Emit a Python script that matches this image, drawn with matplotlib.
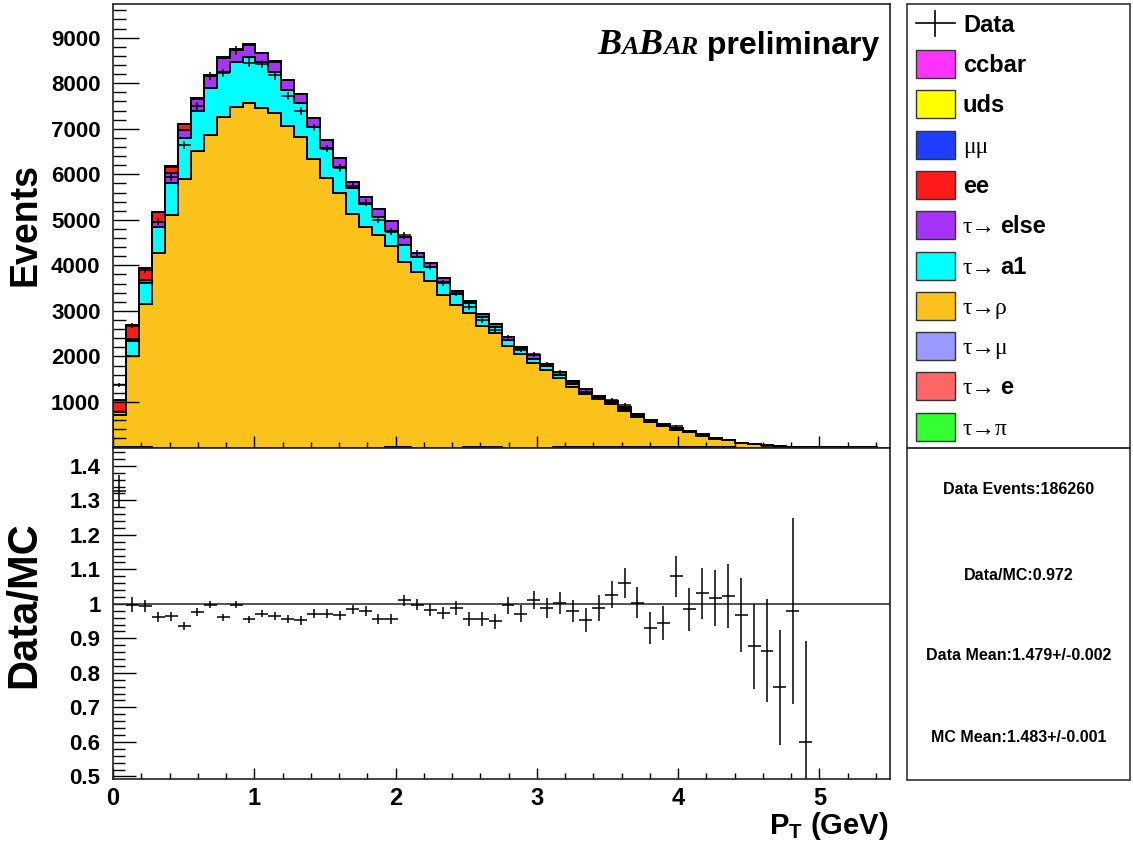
import numpy as np
import matplotlib
matplotlib.use('Agg')
import matplotlib.pyplot as plt
from matplotlib.patches import Rectangle
from matplotlib.ticker import MultipleLocator, FuncFormatter

plt.rcParams['font.family'] = ['Liberation Sans', 'DejaVu Sans']
plt.rcParams['font.weight'] = 'bold'
plt.rcParams['mathtext.fontset'] = 'custom'
plt.rcParams['mathtext.rm'] = 'Liberation Sans:bold'
plt.rcParams['mathtext.bf'] = 'Liberation Sans:bold'

# ---- data (60 bins, 0 - 5.5 GeV) ----
tau_pi = [12, 10, 8, 0, 0, 0, 0, 0, 0, 0, 0, 0, 0, 0, 0, 0, 0, 0, 0, 0,
          0, 8, 6, 0, 0, 0, 0, 6, 6, 6, 0, 0, 0, 0, 5, 5, 5, 5, 5, 5,
          5, 5, 5, 5, 5, 5, 4, 4, 0, 0, 0, 0, 0, 0, 0, 0, 0, 2, 0, 0]
tau_e = [0, 0, 0, 0, 0, 0, 0, 0, 0, 0, 0, 0, 0, 0, 0, 0, 0, 0, 0, 0,
         0, 0, 0, 0, 0, 0, 0, 0, 0, 0, 0, 0, 0, 0, 0, 0, 0, 0, 0, 0,
         0, 0, 3, 3, 3, 0, 0, 0, 0, 0, 0, 0, 0, 0, 0, 0, 0, 0, 0, 0]
tau_mu = [0, 0, 0, 0, 0, 0, 0, 0, 0, 0, 0, 0, 0, 0, 0, 0, 0, 0, 0, 0,
          0, 0, 0, 0, 0, 0, 0, 0, 0, 0, 0, 0, 0, 0, 0, 0, 0, 0, 0, 0,
          0, 0, 0, 0, 0, 0, 0, 0, 0, 0, 0, 0, 0, 0, 0, 0, 0, 0, 0, 0]
tau_rho = [707, 2004, 3147, 4275, 5103, 5886, 6509, 6861, 7264, 7469,
           7571, 7462, 7352, 7059, 6824, 6326, 5908, 5579, 5139, 4846,
           4663, 4407, 4077, 3857, 3659, 3345, 3125, 2956, 2670, 2503,
           2224, 2048, 1866, 1697, 1514, 1330, 1169, 1053, 943, 800,
           660, 545, 460, 385, 322, 250, 190, 150, 88, 66,
           44, 25, 12, 6, 3, 2, 1, 0, 1, 0]
tau_a1 = [55, 315, 468, 571, 710, 901, 887, 1025, 989, 1004,
          1012, 1011, 901, 791, 733, 703, 660, 586, 550, 498,
          403, 350, 367, 330, 308, 292, 257, 207, 198, 145,
          147, 110, 88, 88, 73, 70, 51, 40, 40, 45,
          40, 30, 30, 28, 22, 22, 16, 12, 7, 5,
          3, 2, 1, 1, 0, 0, 0, 0, 0, 0]
tau_else = [10, 60, 59, 110, 205, 183, 249, 271, 293, 256,
            256, 183, 220, 219, 205, 198, 183, 183, 146, 147,
            161, 199, 169, 88, 75, 75, 58, 57, 59, 60,
            58, 51, 72, 59, 63, 62, 59, 32, 32, 32,
            30, 22, 19, 16, 12, 11, 9, 8, 5, 4,
            3, 1, 0, 0, 0, 0, 0, 0, 0, 0]
ee = [265, 305, 256, 205, 147, 132, 30, 20, 15, 10, 10, 10, 5, 5, 5, 3, 0, 0, 0, 0,
      0, 0, 0, 0, 0, 0, 0, 0, 0, 0, 0, 0, 0, 0, 0, 0, 0, 0, 0, 0,
      0, 0, 0, 0, 0, 0, 0, 0, 0, 0, 0, 0, 0, 0, 0, 0, 0, 0, 0, 0]
mumu = [5, 5, 4, 0, 0, 0, 0, 0, 0, 0, 0, 0, 0, 0, 0, 0, 0, 0, 0, 0,
        0, 0, 0, 0, 0, 0, 0, 0, 0, 0, 0, 0, 0, 0, 0, 0, 0, 0, 0, 0,
        0, 0, 0, 0, 0, 0, 0, 0, 0, 0, 0, 0, 0, 0, 0, 0, 0, 0, 0, 0]
uds = [0, 0, 0, 0, 0, 0, 0, 0, 0, 0, 0, 0, 0, 0, 0, 0, 0, 0, 0, 0,
       0, 0, 0, 0, 0, 0, 0, 0, 0, 0, 0, 0, 0, 0, 0, 0, 0, 0, 0, 0,
       0, 0, 0, 0, 0, 0, 0, 0, 0, 0, 0, 0, 0, 0, 0, 0, 0, 0, 0, 0]
ccbar = [0, 0, 0, 6, 8, 8, 10, 8, 8, 6, 6, 5, 0, 0, 0, 0, 0, 0, 0, 0,
         0, 0, 0, 0, 0, 0, 0, 0, 0, 0, 0, 0, 0, 0, 0, 0, 0, 0, 0, 0,
         0, 0, 0, 0, 0, 0, 0, 0, 0, 0, 0, 0, 0, 0, 0, 0, 0, 0, 0, 0]

data = [1376, 2679, 3902, 4960, 5943, 6640, 7491, 8161, 8227, 8722,
        8451, 8423, 8173, 7719, 7394, 7028, 6562, 6139, 5747, 5376,
        4997, 4738, 4659, 4266, 3969, 3615, 3399, 3078, 2798, 2573,
        2419, 2147, 2048, 1822, 1655, 1431, 1219, 1112, 1042, 930,
        732, 555, 481, 463, 350, 291, 219, 174, 97, 66,
        43, 21, 13, 4, 0, 0, 0, 0, 0, 0]

ratio = [1.327, 0.998, 0.993, 0.961, 0.964, 0.935, 0.976, 0.998, 0.961, 0.998,
         0.955, 0.972, 0.964, 0.956, 0.952, 0.972, 0.972, 0.967, 0.985, 0.979,
         0.956, 0.956, 1.010, 0.998, 0.982, 0.974, 0.988, 0.956, 0.956, 0.950,
         0.996, 0.972, 1.011, 0.988, 1.003, 0.979, 0.953, 0.988, 1.027, 1.061,
         1.003, 0.930, 0.945, 1.080, 0.984, 1.030, 1.017, 1.022, 0.967, 0.877,
         0.864, 0.758, 0.979, 0.601, np.nan, np.nan, np.nan, np.nan, np.nan, np.nan]
ratio_err = [0.045, 0.022, 0.017, 0.014, 0.013, 0.012, 0.012, 0.011, 0.011, 0.011,
             0.011, 0.011, 0.011, 0.012, 0.012, 0.012, 0.012, 0.013, 0.013, 0.014,
             0.014, 0.015, 0.015, 0.016, 0.017, 0.018, 0.019, 0.020, 0.021, 0.022,
             0.024, 0.025, 0.027, 0.029, 0.031, 0.033, 0.035, 0.037, 0.040, 0.043,
             0.045, 0.045, 0.050, 0.060, 0.063, 0.073, 0.080, 0.093, 0.107, 0.123,
             0.149, 0.166, 0.270, 0.290, 0, 0, 0, 0, 0, 0]

# stack order bottom -> top, with legend text pieces ('s' symbol font, 'b' bold)
components = [
    (tau_pi, '#33ff33', [('τ→π', 's')]),
    (tau_e, '#ff6666', [('τ→', 's'), ('e', 'b')]),
    (tau_mu, '#9999ff', [('τ→μ', 's')]),
    (tau_rho, '#fcc21c', [('τ→ρ', 's')]),
    (tau_a1, '#00ffff', [('τ→', 's'), ('a1', 'b')]),
    (tau_else, '#a633f5', [('τ→', 's'), ('else', 'b')]),
    (ee, '#ff1a1a', [('ee', 'b')]),
    (mumu, '#1f3fff', [('μμ', 's')]),
    (uds, '#ffff00', [('uds', 'b')]),
    (ccbar, '#ff33ff', [('ccbar', 'b')]),
]
stats_lines = ['Data Events:186260', 'Data/MC:0.972',
               'Data Mean:1.479+/-0.002', 'MC Mean:1.483+/-0.001']

W, H = 1133, 844
fig = plt.figure(figsize=(W / 100, H / 100), dpi=100)


def box(l, t, r, b):
    return [l / W, 1 - b / H, (r - l) / W, (b - t) / H]


ax = fig.add_axes(box(113, 4, 890, 447.5))
axr = fig.add_axes(box(113, 447.5, 890, 779))

edges = np.linspace(0, 5.5, 61)
centers = 0.5 * (edges[1:] + edges[:-1])
half = 0.5 * (edges[1] - edges[0])

bottom = np.zeros(len(centers))
tops = []
for vals, col, _ in components:
    top = bottom + np.array(vals, dtype=float)
    ax.stairs(top, edges, baseline=bottom, fill=True, color=col, lw=0)
    tops.append(top)
    bottom = top
for top in tops:
    ax.stairs(top, edges, color='black', lw=1.4)
mc_total = bottom

data = np.array(data, dtype=float)
ratio = np.array(ratio)
ratio_err = np.array(ratio_err)
m = data > 0
ax.errorbar(centers[m], data[m], xerr=half, yerr=ratio_err[m] * mc_total[m],
            fmt='none', ecolor='black', elinewidth=1.1, capsize=0, zorder=5)

mr = ~np.isnan(ratio)
axr.axhline(1.0, color='#333333', lw=1.2)
axr.errorbar(centers[mr], ratio[mr], xerr=half, yerr=ratio_err[mr],
             fmt='none', ecolor='black', elinewidth=1.1, capsize=0)

for a in (ax, axr):
    a.set_xlim(0, 5.5)
    a.xaxis.set_major_locator(MultipleLocator(1))
    a.xaxis.set_minor_locator(MultipleLocator(0.2))
    for s in a.spines.values():
        s.set_linewidth(1.2)
        s.set_color('#222222')
    a.tick_params(which='both', direction='in', top=False, right=False, width=1)

ax.set_ylim(0, 9740)
ax.yaxis.set_major_locator(MultipleLocator(1000))
ax.yaxis.set_minor_locator(MultipleLocator(200))
ax.yaxis.set_major_formatter(FuncFormatter(lambda v, p: '' if v == 0 else '%d' % v))
ax.tick_params(axis='x', which='major', length=9, labelbottom=False)
ax.tick_params(axis='x', which='minor', length=4.5)
ax.tick_params(axis='y', which='major', length=18.5, labelsize=16, pad=9)
ax.tick_params(axis='y', which='minor', length=9.3)

axr.set_ylim(0.4925, 1.453)
axr.yaxis.set_major_locator(MultipleLocator(0.1))
axr.yaxis.set_minor_locator(MultipleLocator(0.02))
axr.yaxis.set_major_formatter(FuncFormatter(lambda v, p: '%g' % round(v, 2)))
axr.tick_params(axis='x', which='major', length=8, labelsize=17, pad=6)
axr.tick_params(axis='x', which='minor', length=4.3)
axr.tick_params(axis='y', which='major', length=16.5, labelsize=16, pad=9)
axr.tick_params(axis='y', which='minor', length=8.6)

# overlay in image pixel coordinates for labels, legend and stats box
ov = fig.add_axes([0, 0, 1, 1])
ov.set_xlim(0, W)
ov.set_ylim(H, 0)
ov.axis('off')
ov.patch.set_visible(False)

renderer = fig.canvas.get_renderer()
fonts = {
    's': dict(family=['Liberation Serif', 'DejaVu Serif'], weight='normal', size=17),
    'b': dict(family=['Liberation Sans', 'DejaVu Sans'], weight='bold', size=17),
}


def pieces_text(x, y, pieces, gap=0):
    for s, kw in pieces:
        t = ov.text(x, y, s, ha='left', va='baseline', **kw)
        x += t.get_window_extent(renderer=renderer).width + gap
    return x


ov.text(25, 225, 'Events', rotation=90, fontsize=27, ha='center', va='center')
ov.text(24, 605, 'Data/MC', rotation=90, fontsize=30, ha='center', va='center')
ov.text(888, 826, r'P$_{\mathbf{T}}$ (GeV)', fontsize=21, ha='right', va='center')

serif_bi = dict(family=['Liberation Serif', 'DejaVu Serif'], style='italic', weight='bold')
pieces_text(597, 54, [('B', dict(size=26, **serif_bi)), ('A', dict(size=19, **serif_bi)),
                      ('B', dict(size=26, **serif_bi)), ('AR', dict(size=19, **serif_bi)),
                      (' preliminary', dict(size=23, weight='bold'))])

# legend box
ov.add_patch(Rectangle((907, 4), 223, 443.5, fill=False, lw=1.2, ec='#333333'))
ov.plot([916, 955], [23, 23], color='black', lw=1.2)
ov.plot([935, 935], [11, 36], color='black', lw=1.2)
ov.text(963, 23 + 8.5, 'Data', ha='left', va='baseline', **fonts['b'])
for i, (_, col, label) in enumerate(components[::-1]):
    yc = 64 + 40.3 * i
    ov.add_patch(Rectangle((916, yc - 14), 39, 28, facecolor=col, edgecolor='#333333', lw=1))
    pieces_text(963, yc + 8, [(s, fonts[k]) for s, k in label], gap=4)

# stats box
ov.add_patch(Rectangle((907, 447.5), 223, 332.5, fill=False, lw=1.2, ec='#333333'))
for yc, line in zip([490, 575, 655, 738], stats_lines):
    ov.text(1018.5, yc, line, ha='center', va='center', fontsize=11.5)

fig.savefig('out.png', dpi=100)
